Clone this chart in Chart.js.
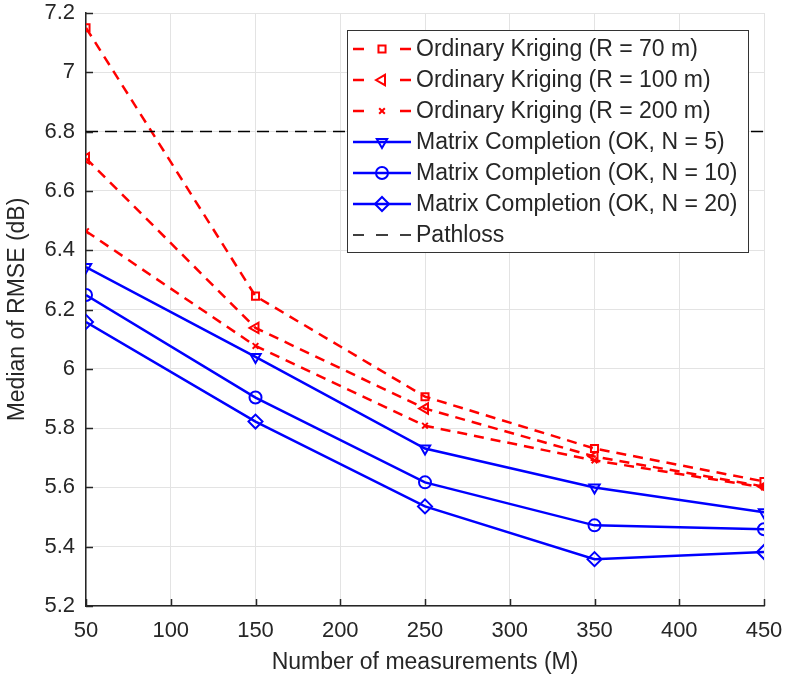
<!DOCTYPE html>
<html>
<head>
<meta charset="utf-8">
<script src="https://cdn.jsdelivr.net/npm/chart.js@4.4.1/dist/chart.umd.min.js"></script>
<style>
  html, body { margin: 0; padding: 0; background: #ffffff; }
  #wrap { width: 786px; height: 680px; position: relative; }
</style>
</head>
<body>
<div id="wrap"><canvas id="c" width="786" height="680"></canvas></div>
<script>
// ---- data ----
const measurements = [50, 150, 250, 350, 450];
const okR70  = [7.15, 6.245, 5.906, 5.731, 5.62];
const okR100 = [6.71, 6.138, 5.866, 5.704, 5.603];
const okR200 = [6.464, 6.077, 5.808, 5.691, 5.60];
const mcN5   = [6.343, 6.04, 5.731, 5.60, 5.516];
const mcN10  = [6.249, 5.903, 5.617, 5.472, 5.459];
const mcN20  = [6.158, 5.822, 5.536, 5.358, 5.382];
const pathloss = [6.8, 6.8, 6.8, 6.8, 6.8];
const xTicks = [50, 100, 150, 200, 250, 300, 350, 400, 450];
const yTicks = [5.2, 5.4, 5.6, 5.8, 6, 6.2, 6.4, 6.6, 6.8, 7, 7.2];
const seriesLabels = [
  'Ordinary Kriging (R = 70 m)',
  'Ordinary Kriging (R = 100 m)',
  'Ordinary Kriging (R = 200 m)',
  'Matrix Completion (OK, N = 5)',
  'Matrix Completion (OK, N = 10)',
  'Matrix Completion (OK, N = 20)',
  'Pathloss'
];

const toXY = arr => arr.map((v, i) => ({ x: measurements[i], y: v }));
const RED = '#ff0000', BLUE = '#0000ff', BLACK = '#000000';
const TEXT = '#262626';
const FONT = '"Liberation Sans", Arial, Helvetica, sans-serif';

function ds(label, data, color, dash, style, rot, radius, order) {
  return {
    label, data: toXY(data),
    borderColor: color, backgroundColor: 'rgba(0,0,0,0)',
    borderWidth: 2.5, borderDash: dash,
    pointStyle: style, pointRotation: rot, pointRadius: radius,
    pointBorderColor: color, pointBackgroundColor: 'rgba(0,0,0,0)',
    pointBorderWidth: 2, pointHoverRadius: radius,
    tension: 0, fill: false, order
  };
}

const datasets = [
  ds(seriesLabels[0], okR70,  RED,  [10, 7], 'rect', 0, 5, 6),
  ds(seriesLabels[1], okR100, RED,  [10, 7], 'triangle', 270, 6, 5),
  ds(seriesLabels[2], okR200, RED,  [10, 7], 'crossRot', 0, 4, 4),
  ds(seriesLabels[3], mcN5,   BLUE, [], 'triangle', 180, 6, 3),
  ds(seriesLabels[4], mcN10,  BLUE, [], 'circle', 0, 6, 2),
  ds(seriesLabels[5], mcN20,  BLUE, [], 'rectRot', 0, 7, 1),
  Object.assign(ds(seriesLabels[6], pathloss, BLACK, [12, 7], 'circle', 0, 0, 0), { borderWidth: 1.5 })
];

const overlay = {
  id: 'overlay',
  afterDraw(chart) {
    const ctx = chart.ctx;
    const xs = chart.scales.x, ys = chart.scales.y;
    const area = chart.chartArea;
    // inward ticks
    ctx.save();
    ctx.strokeStyle = TEXT; ctx.lineWidth = 1.5;
    ctx.beginPath();
    xTicks.forEach(t => {
      const px = Math.round(xs.getPixelForValue(t)) + 0.5;
      ctx.moveTo(px, area.bottom); ctx.lineTo(px, area.bottom - 7);
    });
    yTicks.forEach(t => {
      const py = Math.round(ys.getPixelForValue(t)) + 0.5;
      ctx.moveTo(area.left, py); ctx.lineTo(area.left + 7, py);
    });
    ctx.stroke();
    ctx.restore();

    // legend
    const bx = 347, by = 30, bw = 401, bh = 222;
    ctx.save();
    ctx.fillStyle = '#ffffff';
    ctx.fillRect(bx, by, bw, bh);
    ctx.strokeStyle = '#333333'; ctx.lineWidth = 1;
    ctx.strokeRect(bx + 0.5, by + 0.5, bw, bh);
    const rowY0 = 49, rowH = 31;
    chart.data.datasets.forEach((d, i) => {
      const y = rowY0 + i * rowH;
      ctx.save();
      ctx.strokeStyle = d.borderColor;
      ctx.lineWidth = d.borderWidth;
      ctx.beginPath();
      if ((d.borderDash || []).length && d.pointRadius > 0) {
        ctx.moveTo(353, y); ctx.lineTo(364, y);
        ctx.moveTo(400, y); ctx.lineTo(411, y);
      } else if ((d.borderDash || []).length) {
        ctx.moveTo(353, y); ctx.lineTo(364, y);
        ctx.moveTo(376, y); ctx.lineTo(388, y);
        ctx.moveTo(400, y); ctx.lineTo(411, y);
      } else {
        ctx.moveTo(353, y); ctx.lineTo(411, y);
      }
      ctx.stroke();
      ctx.restore();
      if (d.pointRadius > 0) {
        ctx.save();
        ctx.strokeStyle = d.borderColor;
        ctx.fillStyle = 'rgba(0,0,0,0)';
        ctx.lineWidth = 2;
        Chart.helpers.drawPoint(ctx, {
          pointStyle: d.pointStyle, rotation: d.pointRotation,
          radius: d.pointRadius, borderWidth: 2
        }, 382, y);
        ctx.restore();
      }
      ctx.fillStyle = TEXT;
      ctx.font = '23px ' + FONT;
      ctx.textBaseline = 'middle';
      ctx.textAlign = 'left';
      ctx.fillText(d.label, 416, y + 1);
    });
    ctx.restore();
  }
};

new Chart(document.getElementById('c'), {
  type: 'line',
  data: { datasets },
  options: {
    responsive: false,
    animation: false,
    events: [],
    layout: { padding: { top: 13, right: 22, bottom: 0, left: 0 } },
    plugins: { legend: { display: false }, tooltip: { enabled: false } },
    scales: {
      x: {
        type: 'linear', min: 50, max: 450,
        afterBuildTicks: s => { s.ticks = xTicks.map(v => ({ value: v })); },
        afterFit: s => { s.height = 74; s.paddingLeft = 0; s.paddingRight = 0; },
        grid: { color: '#e3e3e3', lineWidth: 1, drawTicks: false },
        border: { display: true, color: TEXT, width: 1.5 },
        ticks: { color: TEXT, font: { family: FONT, size: 22 }, padding: 12, maxRotation: 0,
                 callback: v => String(v) },
        title: { display: true, text: 'Number of measurements (M)', color: TEXT,
                 font: { family: FONT, size: 23 }, padding: { top: 0, bottom: 4 } }
      },
      y: {
        type: 'linear', min: 5.2, max: 7.2,
        afterBuildTicks: s => { s.ticks = yTicks.map(v => ({ value: v })); },
        afterFit: s => { s.width = 86; s.paddingTop = 0; s.paddingBottom = 0; },
        grid: { color: '#e3e3e3', lineWidth: 1, drawTicks: false },
        border: { display: true, color: TEXT, width: 1.5 },
        ticks: { color: TEXT, font: { family: FONT, size: 22 }, padding: 11,
                 callback: v => String(Math.round(v * 10) / 10) },
        title: { display: true, text: 'Median of RMSE (dB)', color: TEXT,
                 font: { family: FONT, size: 23 }, padding: { top: 4, bottom: 0 } }
      }
    }
  },
  plugins: [overlay]
});
</script>
</body>
</html>
